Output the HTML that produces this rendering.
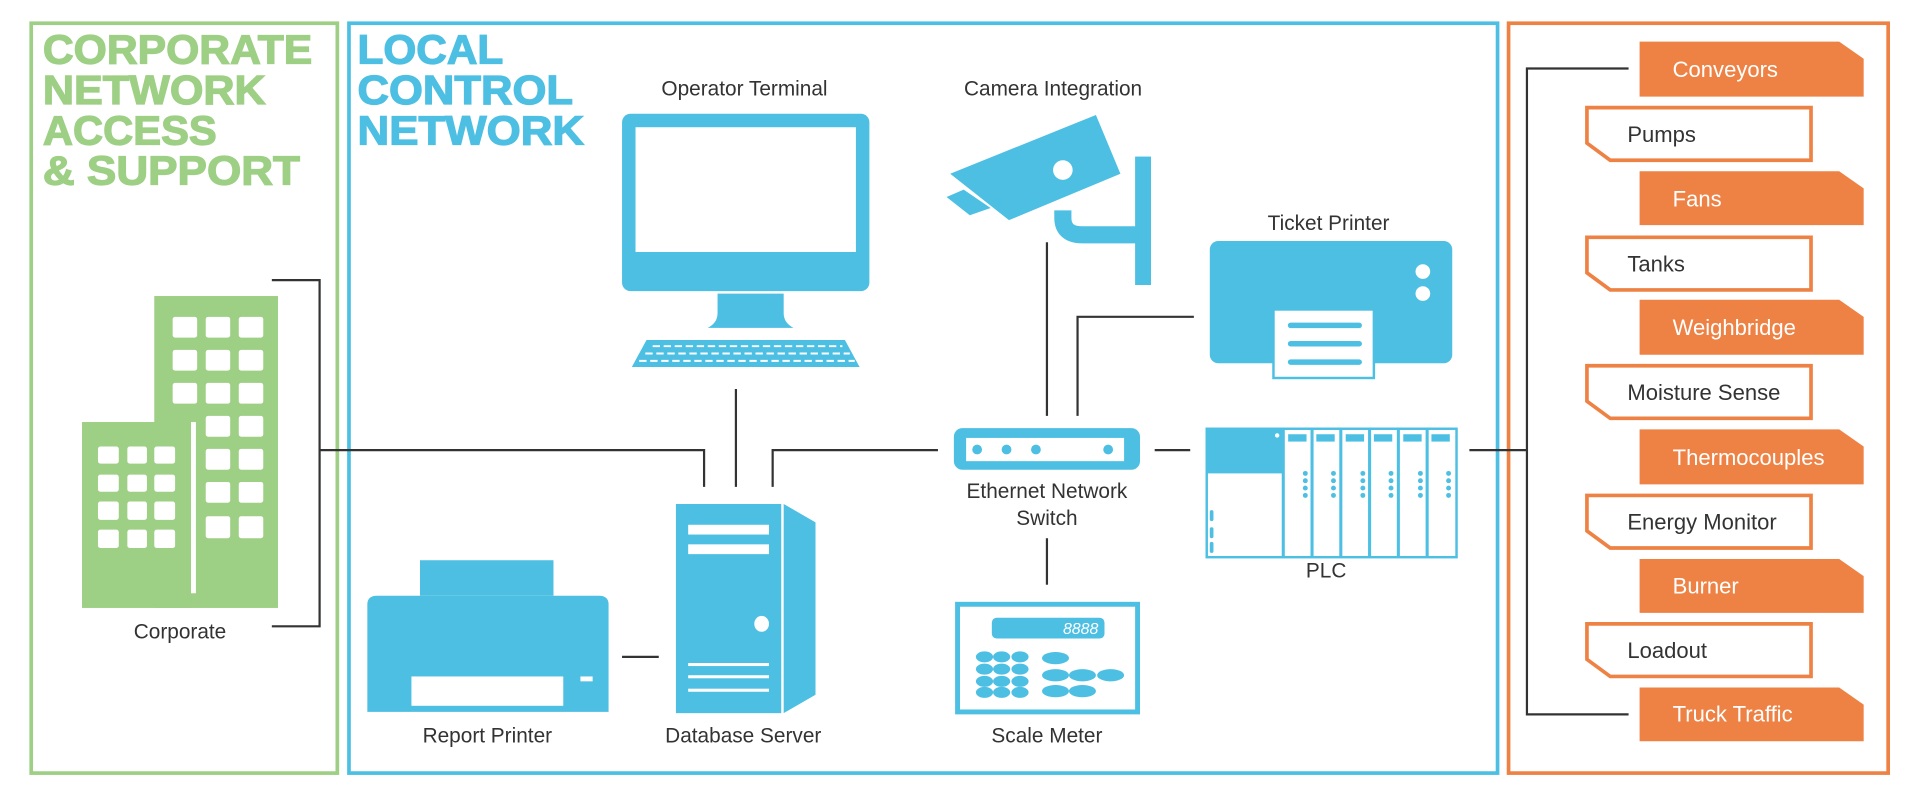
<!DOCTYPE html>
<html><head><meta charset="utf-8"><style>
html,body{margin:0;padding:0;background:#fff;}
svg{display:block;}
text{font-family:"Liberation Sans",sans-serif;}
</style></head><body>
<svg width="1920" height="800" viewBox="0 0 1568 654" preserveAspectRatio="none" xmlns="http://www.w3.org/2000/svg">
<!-- frames -->
<rect x="25.5" y="19" width="250" height="613" fill="none" stroke="#9dcf84" stroke-width="3"/>
<rect x="285" y="19" width="938" height="613" fill="none" stroke="#4cbfe3" stroke-width="3"/>
<rect x="1232" y="19" width="310" height="613" fill="none" stroke="#ee8245" stroke-width="3"/>
<!-- titles -->
<g font-weight="bold" font-size="33" fill="#9dcf84" stroke="#9dcf84" stroke-width="1" lengthAdjust="spacingAndGlyphs">
<text x="35" y="52" textLength="220" lengthAdjust="spacingAndGlyphs">CORPORATE</text>
<text x="35" y="85" textLength="182" lengthAdjust="spacingAndGlyphs">NETWORK</text>
<text x="35" y="118" textLength="142" lengthAdjust="spacingAndGlyphs">ACCESS</text>
<text x="35" y="151" textLength="210" lengthAdjust="spacingAndGlyphs">&amp; SUPPORT</text>
</g>
<g font-weight="bold" font-size="33" fill="#4cbfe3" stroke="#4cbfe3" stroke-width="1">
<text x="292" y="52" textLength="119" lengthAdjust="spacingAndGlyphs">LOCAL</text>
<text x="292" y="85" textLength="176" lengthAdjust="spacingAndGlyphs">CONTROL</text>
<text x="292" y="118" textLength="185" lengthAdjust="spacingAndGlyphs">NETWORK</text>
</g>
<!-- connectors -->
<g stroke="#333" stroke-width="1.8" fill="none">
<polyline points="222,229 261,229 261,512 222,512"/>
<polyline points="261,368 575,368 575,398"/>
<line x1="601" y1="318" x2="601" y2="398"/>
<polyline points="631,398 631,368 766,368"/>
<line x1="508" y1="537" x2="538" y2="537"/>
<line x1="855" y1="198" x2="855" y2="340"/>
<polyline points="975,259 880,259 880,340"/>
<line x1="855" y1="440" x2="855" y2="478"/>
<line x1="943" y1="368" x2="972" y2="368"/>
<line x1="1200" y1="368" x2="1247" y2="368"/>
<polyline points="1330,56 1247,56 1247,584 1330,584"/>
</g>
<!-- buildings -->
<g fill="#9dcf84">
<rect x="126" y="242" width="101" height="255"/>
<rect x="67" y="345" width="89" height="152"/>
</g>
<rect x="156" y="345" width="4" height="140" fill="#fff"/>
<g fill="#fff">
<rect x="141" y="259" width="20" height="17" rx="2"/><rect x="168" y="259" width="20" height="17" rx="2"/><rect x="195" y="259" width="20" height="17" rx="2"/>
<rect x="141" y="286" width="20" height="17" rx="2"/><rect x="168" y="286" width="20" height="17" rx="2"/><rect x="195" y="286" width="20" height="17" rx="2"/>
<rect x="141" y="313" width="20" height="17" rx="2"/><rect x="168" y="313" width="20" height="17" rx="2"/><rect x="195" y="313" width="20" height="17" rx="2"/>
<rect x="168" y="340" width="20" height="17" rx="2"/><rect x="195" y="340" width="20" height="17" rx="2"/>
<rect x="168" y="367" width="20" height="17" rx="2"/><rect x="195" y="367" width="20" height="17" rx="2"/>
<rect x="168" y="394" width="20" height="17" rx="2"/><rect x="195" y="394" width="20" height="17" rx="2"/>
<rect x="168" y="422" width="20" height="18" rx="2"/><rect x="195" y="422" width="20" height="18" rx="2"/>
<rect x="80" y="365" width="17" height="14" rx="2"/><rect x="104" y="365" width="16" height="14" rx="2"/><rect x="126" y="365" width="17" height="14" rx="2"/>
<rect x="80" y="388" width="17" height="14" rx="2"/><rect x="104" y="388" width="16" height="14" rx="2"/><rect x="126" y="388" width="17" height="14" rx="2"/>
<rect x="80" y="410" width="17" height="15" rx="2"/><rect x="104" y="410" width="16" height="15" rx="2"/><rect x="126" y="410" width="17" height="15" rx="2"/>
<rect x="80" y="433" width="17" height="15" rx="2"/><rect x="104" y="433" width="16" height="15" rx="2"/><rect x="126" y="433" width="17" height="15" rx="2"/>
</g>
<!-- labels -->
<g font-size="17" fill="#333" text-anchor="middle">
<text x="147" y="522">Corporate</text>
<text x="608" y="78">Operator Terminal</text>
<text x="860" y="78">Camera Integration</text>
<text x="1085" y="188">Ticket Printer</text>
<text x="398" y="607">Report Printer</text>
<text x="607" y="607">Database Server</text>
<text x="855" y="407">Ethernet Network</text>
<text x="855" y="429">Switch</text>
<text x="855" y="607">Scale Meter</text>
<text x="1083" y="472">PLC</text>
</g>
<!-- monitor -->
<g fill="#4cbfe3">
<rect x="508" y="93" width="202" height="145" rx="7"/>
<path d="M586,240 H640 V256 Q640,264 648,268 H578 Q586,264 586,256 Z"/>
<path d="M528,278 H690 L702,300 H516 Z"/>
</g>
<rect x="519" y="104" width="180" height="102" fill="#fff"/>
<g stroke="#fff" stroke-width="1.6" stroke-dasharray="6,3">
<line x1="533" y1="283" x2="688" y2="283"/>
<line x1="527" y1="289" x2="694" y2="289"/>
<line x1="522" y1="295" x2="698" y2="295"/>
</g>
<!-- database server -->
<rect x="552" y="412" width="86" height="171" fill="#4cbfe3"/>
<path d="M640,412 L666,427 V568 L640,583 Z" fill="#4cbfe3"/>
<g fill="#fff">
<rect x="562" y="429" width="66" height="8"/><rect x="562" y="445" width="66" height="8"/>
<ellipse cx="622" cy="510" rx="6" ry="6.5"/>
<rect x="562" y="542" width="66" height="2.5"/><rect x="562" y="552" width="66" height="2.5"/><rect x="562" y="563" width="66" height="2.5"/>
</g>
<!-- report printer -->
<rect x="343" y="458" width="109" height="29" fill="#4cbfe3"/>
<path d="M300,582 V494 Q300,487 308,487 H489 Q497,487 497,494 V582 Z" fill="#4cbfe3"/>
<rect x="336" y="553" width="124" height="24" fill="#fff"/>
<rect x="474" y="553" width="10" height="4" fill="#fff"/>
<!-- camera -->
<g fill="#4cbfe3">
<path d="M776,142 L895,94 L915,142 L824,180 Z"/>
<path d="M773,161 L787,155 L809,170 L792,176 Z"/>
<rect x="927" y="128" width="13" height="105"/>
</g>
<path d="M868,172 V178 Q868,192 884,192 H930" fill="none" stroke="#4cbfe3" stroke-width="14"/>
<circle cx="868" cy="139" r="8" fill="#fff"/>
<!-- ticket printer -->
<rect x="988" y="197" width="198" height="100" rx="7" fill="#4cbfe3"/>
<circle cx="1162" cy="222" r="6" fill="#fff"/><circle cx="1162" cy="240" r="6" fill="#fff"/>
<rect x="1040" y="253" width="82" height="56" fill="#fff" stroke="#4cbfe3" stroke-width="2"/>
<g stroke="#4cbfe3" stroke-width="4.5" stroke-linecap="round">
<line x1="1054" y1="266" x2="1110" y2="266"/><line x1="1054" y1="281" x2="1110" y2="281"/><line x1="1054" y1="296" x2="1110" y2="296"/>
</g>
<!-- switch -->
<rect x="779" y="350" width="152" height="34" rx="7" fill="#4cbfe3"/>
<rect x="789" y="358" width="129" height="19" fill="#fff"/>
<g fill="#4cbfe3"><circle cx="798" cy="367.5" r="4"/><circle cx="822" cy="367.5" r="4"/><circle cx="846" cy="367.5" r="4"/><circle cx="905" cy="367.5" r="4"/></g>
<!-- scale meter -->
<rect x="782" y="494" width="147" height="88" fill="#fff" stroke="#4cbfe3" stroke-width="4"/>
<rect x="810" y="505" width="92" height="17" rx="4" fill="#4cbfe3"/>
<text x="897" y="518.5" font-size="13" fill="#fff" text-anchor="end" font-style="italic">8888</text>
<g fill="#4cbfe3">
<ellipse cx="804" cy="537" rx="7" ry="4.5"/><ellipse cx="818" cy="537" rx="7" ry="4.5"/><ellipse cx="833" cy="537" rx="7" ry="4.5"/>
<ellipse cx="804" cy="547" rx="7" ry="4.5"/><ellipse cx="818" cy="547" rx="7" ry="4.5"/><ellipse cx="833" cy="547" rx="7" ry="4.5"/>
<ellipse cx="804" cy="557" rx="7" ry="4.5"/><ellipse cx="818" cy="557" rx="7" ry="4.5"/><ellipse cx="833" cy="557" rx="7" ry="4.5"/>
<ellipse cx="804" cy="566" rx="7" ry="4.5"/><ellipse cx="818" cy="566" rx="7" ry="4.5"/><ellipse cx="833" cy="566" rx="7" ry="4.5"/>
<ellipse cx="862" cy="538" rx="11" ry="5"/>
<ellipse cx="862" cy="552" rx="11" ry="5"/><ellipse cx="884" cy="552" rx="11" ry="5"/><ellipse cx="907" cy="552" rx="11" ry="5"/>
<ellipse cx="862" cy="565" rx="11" ry="5"/><ellipse cx="884" cy="565" rx="11" ry="5"/>
</g>
<!-- PLC -->
<rect x="985.5" y="350.5" width="204" height="105" fill="#fff" stroke="#4cbfe3" stroke-width="2"/>
<rect x="985" y="350" width="63" height="37" fill="#4cbfe3"/>
<circle cx="1043" cy="356" r="1.8" fill="#fff"/>
<g fill="#4cbfe3">
<rect x="988" y="417" width="3" height="9" rx="1.5"/><rect x="988" y="431" width="3" height="9" rx="1.5"/><rect x="988" y="443" width="3" height="9" rx="1.5"/>
</g>
<g stroke="#4cbfe3" stroke-width="2.5"><line x1="1048" y1="350" x2="1048" y2="456"/><line x1="1071.5" y1="350" x2="1071.5" y2="456"/><line x1="1095" y1="350" x2="1095" y2="456"/><line x1="1118.5" y1="350" x2="1118.5" y2="456"/><line x1="1142" y1="350" x2="1142" y2="456"/><line x1="1165.5" y1="350" x2="1165.5" y2="456"/></g>
<g fill="#4cbfe3">
<rect x="1052" y="355" width="15" height="6"/><rect x="1075" y="355" width="15" height="6"/><rect x="1099" y="355" width="15" height="6"/><rect x="1122" y="355" width="15" height="6"/><rect x="1146" y="355" width="15" height="6"/><rect x="1169" y="355" width="15" height="6"/>
</g>
<g fill="#4cbfe3">
<circle cx="1066" cy="387" r="2"/><circle cx="1066" cy="393" r="2"/><circle cx="1066" cy="399" r="2"/><circle cx="1066" cy="405" r="2"/>
<circle cx="1089" cy="387" r="2"/><circle cx="1089" cy="393" r="2"/><circle cx="1089" cy="399" r="2"/><circle cx="1089" cy="405" r="2"/>
<circle cx="1113" cy="387" r="2"/><circle cx="1113" cy="393" r="2"/><circle cx="1113" cy="399" r="2"/><circle cx="1113" cy="405" r="2"/>
<circle cx="1136" cy="387" r="2"/><circle cx="1136" cy="393" r="2"/><circle cx="1136" cy="399" r="2"/><circle cx="1136" cy="405" r="2"/>
<circle cx="1160" cy="387" r="2"/><circle cx="1160" cy="393" r="2"/><circle cx="1160" cy="399" r="2"/><circle cx="1160" cy="405" r="2"/>
<circle cx="1183" cy="387" r="2"/><circle cx="1183" cy="393" r="2"/><circle cx="1183" cy="399" r="2"/><circle cx="1183" cy="405" r="2"/>
</g>
<!-- orange items -->
<g fill="#ee8245">
<path d="M1339,34 H1502 L1522,48 V79 H1339 Z"/>
<path d="M1339,140 H1502 L1522,154 V184 H1339 Z"/>
<path d="M1339,245 H1502 L1522,259 V290 H1339 Z"/>
<path d="M1339,351 H1502 L1522,365 V396 H1339 Z"/>
<path d="M1339,457 H1502 L1522,471 V501 H1339 Z"/>
<path d="M1339,562 H1502 L1522,576 V606 H1339 Z"/>
</g>
<g fill="#fff" stroke="#ee8245" stroke-width="3">
<path d="M1296,88 H1479 V131 H1315 L1296,117 Z"/>
<path d="M1296,194 H1479 V237 H1315 L1296,223 Z"/>
<path d="M1296,299 H1479 V342 H1315 L1296,328 Z"/>
<path d="M1296,405 H1479 V448 H1315 L1296,434 Z"/>
<path d="M1296,510 H1479 V553 H1315 L1296,539 Z"/>
</g>
<g font-size="18" fill="#fff">
<text x="1366" y="63">Conveyors</text><text x="1366" y="169">Fans</text><text x="1366" y="274">Weighbridge</text>
<text x="1366" y="380">Thermocouples</text><text x="1366" y="485">Burner</text><text x="1366" y="590">Truck Traffic</text>
</g>
<g font-size="18" fill="#333">
<text x="1329" y="116">Pumps</text><text x="1329" y="222">Tanks</text><text x="1329" y="327">Moisture Sense</text>
<text x="1329" y="433">Energy Monitor</text><text x="1329" y="538">Loadout</text>
</g>
</svg>
</body></html>
